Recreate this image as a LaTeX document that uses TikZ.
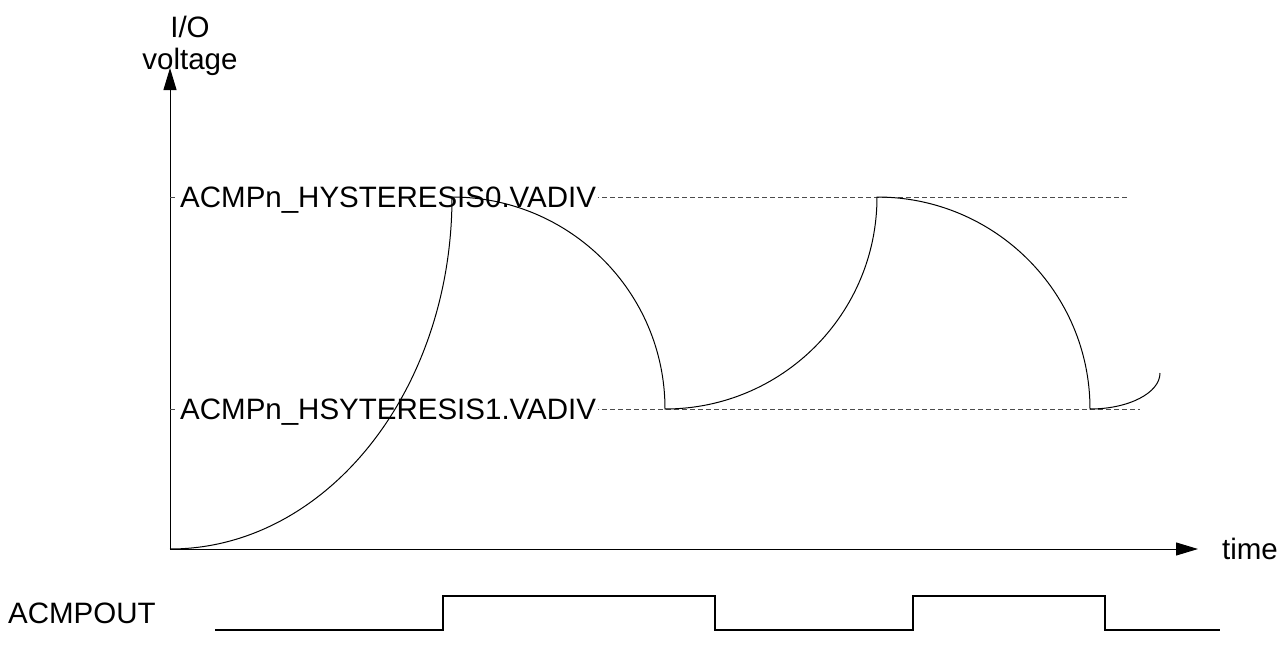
\documentclass[tikz,border=0pt]{standalone}
\usepackage{fontspec}
\setmainfont{Liberation Sans}
\usetikzlibrary{arrows.meta}
\begin{document}
\begin{tikzpicture}[x=1pt,y=-1pt,
  lbl/.style={font=\fontsize{29.5}{32}\selectfont, inner sep=0pt},
  gl/.style={font=\fontsize{29.5}{32}\selectfont, inner xsep=2pt, inner ysep=0pt, fill=white},
  curve/.style={line width=1pt},
  guide/.style={line width=1pt, dash pattern=on 5pt off 3pt, black!70},
  axis/.style={line width=1pt, -{Triangle[length=22pt,width=13pt]}},
  sig/.style={line width=1.2pt}]
\useasboundingbox (0,0) rectangle (1283,667);
% axes
\coordinate (O) at (170,549);
\coordinate (Ytop) at (170,68);
\coordinate (Xend) at (1198,549);
\draw[axis] (O) -- (Ytop);
\draw[axis] (O) -- (Xend);
\node[lbl, align=center] (ylab) at (190,46) {I/O\\voltage};
\node[lbl] (tlab) at (1250,549) {time};
% guide lines
\coordinate (h0s) at (170,197);
\coordinate (h0e) at (1127,197);
\coordinate (h1s) at (170,409);
\coordinate (h1e) at (1140,409);
\draw[guide] (h0s) -- (h0e);
\draw[guide] (h1s) -- (h1e);
\node[gl, anchor=base west] (h0) at (178,207) {ACMPn\_HYSTERESIS0.VADIV};
\node[gl, anchor=base west] (h1) at (178,419) {ACMPn\_HSYTERESIS1.VADIV};
% voltage curve
\draw[curve] (O) arc[start angle=90, end angle=0, x radius=282, y radius=352] coordinate (p1)
  arc[start angle=-90, end angle=0, x radius=213, y radius=212] coordinate (p2)
  arc[start angle=90, end angle=0, x radius=212, y radius=212] coordinate (p3)
  arc[start angle=-90, end angle=0, x radius=213, y radius=212] coordinate (p4)
  arc[start angle=90, end angle=0, x radius=70, y radius=36] coordinate (p5);
% output signal
\node[lbl, anchor=west] (out) at (8,613) {ACMPOUT};
\coordinate (s0) at (215,630);
\coordinate (s1) at (1220,630);
\draw[sig] (s0) -- (443,630) -- (443,596) -- (715,596) -- (715,630) -- (913,630) -- (913,596) -- (1105,596) -- (1105,630) -- (s1);
\end{tikzpicture}
\end{document}
